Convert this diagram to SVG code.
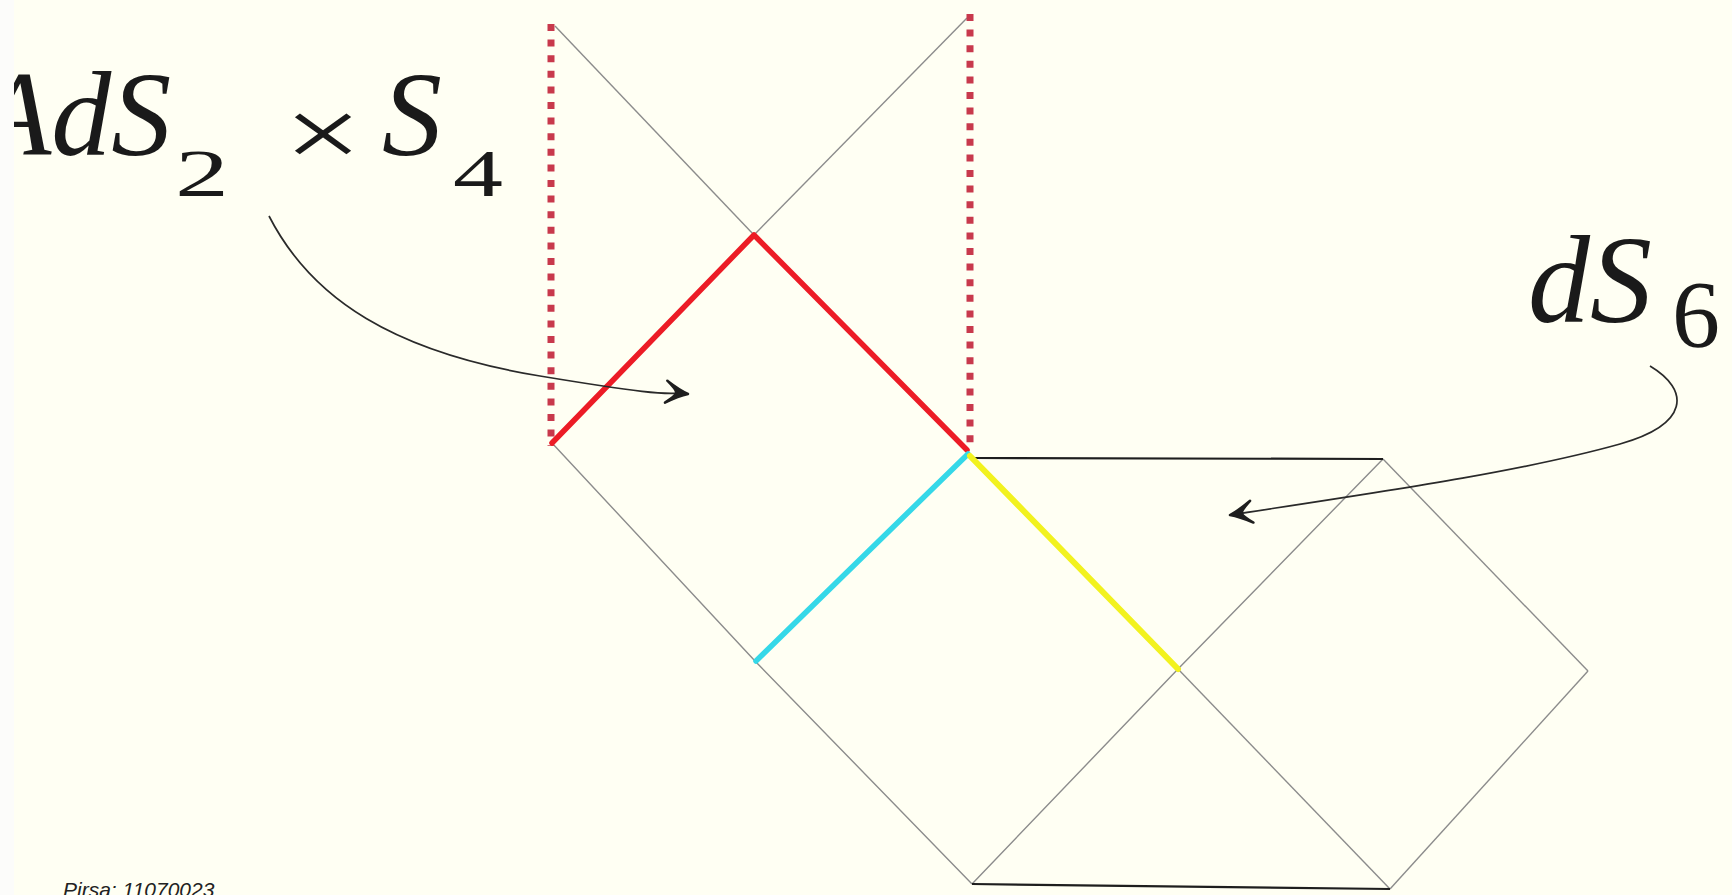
<svg xmlns="http://www.w3.org/2000/svg" width="1732" height="895" viewBox="0 0 1732 895">
  <defs>
    <style>
      .math { font-family: "Liberation Serif", "DejaVu Serif", serif; fill: #1a1a1a; }
      .it { font-style: italic; }
      .thin { stroke: #8c8c8c; stroke-width: 1.4; fill: none; }
      .dark { stroke: #1e1e1e; stroke-width: 2.2; fill: none; }
      .red { stroke: #ec1c26; stroke-width: 5.5; fill: none; stroke-linecap: round; stroke-linejoin: round; }
      .dotted { stroke: #c8394c; stroke-width: 7; stroke-dasharray: 7 8.6; fill: none; }
      .cyan { stroke: #35d8e8; stroke-width: 5.5; fill: none; stroke-linecap: round; }
      .yellow { stroke: #f2f21e; stroke-width: 6; fill: none; stroke-linecap: round; }
      .arrow { stroke: #2a2a2a; stroke-width: 1.7; fill: none; marker-end: url(#head); }
      .caption { font-family: "Liberation Sans", Arial, sans-serif; font-style: italic; font-size: 21px; fill: #222; }
    </style>
    <marker id="head" viewBox="-28 -16 32 32" markerWidth="32" markerHeight="32" refX="0" refY="0" orient="auto" markerUnits="userSpaceOnUse">
      <path d="M -22,-11 Q -9,-3 0,0 Q -9,3 -22,11 Q -12,3 -12,0 Q -12,-3 -22,-11 Z" fill="#1e1e1e" stroke="#1e1e1e" stroke-width="2.5" stroke-linejoin="round"/>
    </marker>
  </defs>

  <rect x="0" y="0" width="1732" height="895" fill="#fffff3"/>

  <g id="connectors">
    <!-- upper X lines -->
    <line class="thin" x1="555" y1="26" x2="754" y2="235"/>
    <line class="thin" x1="754" y1="235" x2="967" y2="18"/>
    <!-- lower diagram -->
    <polyline class="thin" points="552,443 755,661 972,884"/>
    <polyline class="thin" points="1383,459 1178,669 972,884"/>
    <line class="thin" x1="1178" y1="669" x2="1390" y2="889"/>
    <line class="thin" x1="1383" y1="459" x2="1588" y2="671"/>
    <line class="thin" x1="1588" y1="671" x2="1390" y2="889"/>
    <line class="dark" x1="974" y1="458" x2="1383" y2="459"/>
    <line class="dark" x1="972" y1="884" x2="1390" y2="889"/>
    <!-- dotted boundaries -->
    <line class="dotted" x1="551" y1="24" x2="551" y2="446"/>
    <line class="dotted" x1="970" y1="14" x2="970" y2="450"/>
    <!-- coloured segments -->
    <polyline class="red" points="552,443 754,235 967,450"/>
    <line class="cyan" x1="968" y1="454" x2="756" y2="661"/>
    <line class="yellow" x1="970" y1="456" x2="1178" y2="669"/>
    <!-- annotation arrows -->
    <path class="arrow" d="M269,216 C 312,300 395,352 540,376 S 660,391 688,394"/>
    <path class="arrow" d="M1650,366 C 1690,390 1690,424 1620,444 C 1520,472 1380,492 1230,515"/>
  </g>

  <g id="label-ads2s4">
    <text class="math it" x="-22" y="155" font-size="120">AdS</text>
    <text class="math" x="175" y="196" font-size="68" textLength="54" lengthAdjust="spacingAndGlyphs">2</text>
    <text class="math" x="284" y="167" font-size="100" textLength="78" lengthAdjust="spacingAndGlyphs">×</text>
    <text class="math it" x="382" y="155" font-size="120">S</text>
    <text class="math" x="453" y="196" font-size="68" textLength="50" lengthAdjust="spacingAndGlyphs">4</text>
  </g>

  <g id="label-ds6">
    <text class="math it" x="1528" y="322" font-size="124">dS</text>
    <text class="math" x="1672" y="347" font-size="96">6</text>
  </g>

  <rect x="0" y="0" width="14" height="895" fill="#fcfcfa"/>

  <g id="caption">
    <text class="caption" x="63" y="897">Pirsa: 11070023</text>
  </g>
</svg>
